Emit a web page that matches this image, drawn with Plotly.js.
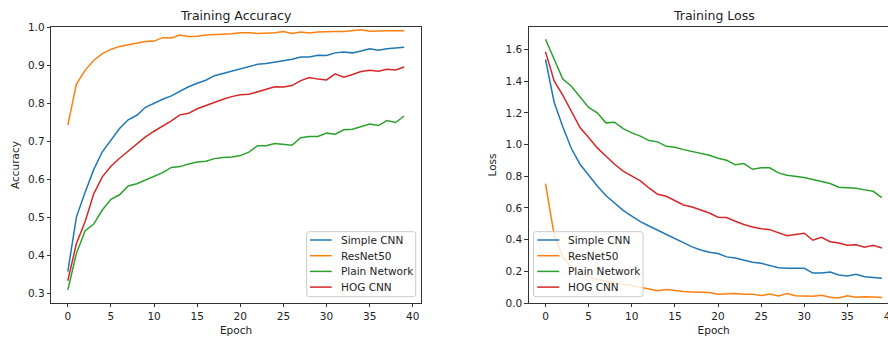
<!DOCTYPE html>
<html>
<head>
<meta charset="utf-8">
<script src="https://cdn.plot.ly/plotly-3.0.1.min.js"></script>
<style>
  html, body { margin: 0; padding: 0; overflow: hidden; background: #fff; width: 888px; height: 337px; }
  #chart { width: 910px; height: 337px; }
</style>
</head>
<body>
<div id="chart"></div>
<script>
// ---- data ----
const epochs = [0,1,2,3,4,5,6,7,8,9,10,11,12,13,14,15,16,17,18,19,20,21,22,23,24,25,26,27,28,29,30,31,32,33,34,35,36,37,38,39];
const seriesNames = ["Simple CNN", "ResNet50", "Plain Network", "HOG CNN"];

const accSimpleCNN = [0.357,0.501,0.565,0.625,0.672,0.703,0.733,0.756,0.768,0.789,0.800,0.810,0.819,0.831,0.843,0.852,0.860,0.872,0.878,0.884,0.889,0.897,0.902,0.904,0.907,0.911,0.915,0.921,0.921,0.926,0.925,0.932,0.934,0.932,0.937,0.943,0.939,0.943,0.945,0.947];
const accResNet50 = [0.742,0.850,0.886,0.912,0.930,0.941,0.949,0.954,0.959,0.962,0.963,0.972,0.971,0.979,0.975,0.976,0.979,0.980,0.980,0.982,0.985,0.985,0.983,0.984,0.985,0.988,0.983,0.987,0.984,0.987,0.988,0.988,0.988,0.990,0.993,0.989,0.990,0.990,0.990,0.990];
const accPlain = [0.309,0.405,0.464,0.482,0.519,0.547,0.559,0.582,0.588,0.598,0.606,0.617,0.631,0.633,0.640,0.645,0.647,0.654,0.657,0.658,0.662,0.671,0.688,0.688,0.694,0.691,0.689,0.709,0.712,0.712,0.721,0.718,0.730,0.731,0.738,0.745,0.741,0.754,0.749,0.766];
const accHOG = [0.333,0.431,0.488,0.561,0.606,0.634,0.655,0.674,0.694,0.711,0.726,0.739,0.753,0.769,0.773,0.785,0.794,0.801,0.810,0.817,0.822,0.823,0.829,0.837,0.843,0.842,0.846,0.859,0.867,0.863,0.861,0.877,0.868,0.875,0.883,0.886,0.884,0.889,0.887,0.895];

const lossSimpleCNN = [1.537,1.267,1.112,0.975,0.876,0.806,0.739,0.678,0.632,0.585,0.549,0.514,0.486,0.459,0.432,0.408,0.381,0.354,0.335,0.320,0.312,0.291,0.284,0.269,0.257,0.251,0.238,0.223,0.219,0.219,0.219,0.189,0.189,0.196,0.177,0.171,0.181,0.166,0.162,0.156];
const lossResNet50 = [0.754,0.430,0.290,0.225,0.190,0.165,0.148,0.136,0.126,0.116,0.110,0.100,0.092,0.078,0.085,0.077,0.073,0.070,0.068,0.066,0.055,0.057,0.060,0.055,0.056,0.047,0.057,0.044,0.060,0.046,0.046,0.043,0.049,0.036,0.032,0.046,0.036,0.040,0.038,0.034];
const lossPlain = [1.665,1.543,1.413,1.368,1.301,1.234,1.200,1.137,1.141,1.101,1.074,1.053,1.025,1.017,0.989,0.983,0.968,0.956,0.947,0.933,0.914,0.901,0.872,0.880,0.844,0.853,0.853,0.821,0.806,0.800,0.792,0.779,0.764,0.754,0.731,0.726,0.724,0.714,0.705,0.665];
const lossHOG = [1.585,1.402,1.312,1.213,1.107,1.044,0.979,0.928,0.876,0.832,0.800,0.771,0.726,0.686,0.674,0.648,0.619,0.606,0.589,0.568,0.541,0.539,0.516,0.495,0.480,0.469,0.463,0.446,0.425,0.432,0.440,0.396,0.415,0.387,0.379,0.364,0.368,0.352,0.364,0.347];

const xTicks = [0,5,10,15,20,25,30,35,40];
const accTicks = [0.3,0.4,0.5,0.6,0.7,0.8,0.9,1.0];
const lossTicks = [0.0,0.2,0.4,0.6,0.8,1.0,1.2,1.4,1.6];

// ---- styles ----
const colors = ["#1f77b4", "#ff7f0e", "#2ca02c", "#d62728"];
const W = 910, H = 337;
const FONT = "DejaVu Sans, Verdana, sans-serif";

const accSeries = [accSimpleCNN, accResNet50, accPlain, accHOG];
const lossSeries = [lossSimpleCNN, lossResNet50, lossPlain, lossHOG];

const traces = [];
accSeries.forEach((ys, i) => traces.push({
  x: epochs, y: ys, type: "scatter", mode: "lines", name: seriesNames[i],
  line: { color: colors[i], width: 1.5 }, xaxis: "x", yaxis: "y", showlegend: false
}));
lossSeries.forEach((ys, i) => traces.push({
  x: epochs, y: ys, type: "scatter", mode: "lines", name: seriesNames[i],
  line: { color: colors[i], width: 1.5 }, xaxis: "x2", yaxis: "y2", showlegend: false
}));

const axisCommon = {
  showgrid: false, zeroline: false, showline: true, mirror: true,
  linecolor: "#000", linewidth: 0.8,
  ticks: "outside", ticklen: 3.5, tickwidth: 0.8, tickcolor: "#000",
  tickfont: { family: FONT, size: 10.5, color: "#222" },
  automargin: false
};

function px(x) { return x / W; }
function py(y) { return (H - y) / H; }

// legend boxes drawn as shapes + real text annotations (matplotlib-style compact legend)
const shapes = [];
const annotations = [
  { text: "Training Accuracy", xref: "paper", yref: "paper", x: px(236), y: py(15.5),
    xanchor: "center", yanchor: "middle", showarrow: false,
    font: { family: FONT, size: 12.5, color: "#222" } },
  { text: "Training Loss", xref: "paper", yref: "paper", x: px(713.7), y: py(15.5),
    xanchor: "center", yanchor: "middle", showarrow: false,
    font: { family: FONT, size: 12.5, color: "#222" } }
];

function roundedRect(x0, y0, x1, y1, r) {
  const P = (x, y) => px(x) + "," + py(y);
  return "M" + P(x0 + r, y0) + " L" + P(x1 - r, y0) +
    " Q" + P(x1, y0) + " " + P(x1, y0 + r) +
    " L" + P(x1, y1 - r) + " Q" + P(x1, y1) + " " + P(x1 - r, y1) +
    " L" + P(x0 + r, y1) + " Q" + P(x0, y1) + " " + P(x0, y1 - r) +
    " L" + P(x0, y0 + r) + " Q" + P(x0, y0) + " " + P(x0 + r, y0) + " Z";
}

function addLegend(boxL, boxR, boxT, boxB, lineL, lineR, textL, rowYs) {
  shapes.push({
    type: "path", xref: "paper", yref: "paper", layer: "above",
    path: roundedRect(boxL, boxT, boxR, boxB, 2.5),
    fillcolor: "rgba(255,255,255,0.8)", line: { color: "#cccccc", width: 1 }
  });
  seriesNames.forEach((name, i) => {
    shapes.push({
      type: "line", xref: "paper", yref: "paper", layer: "above",
      x0: px(lineL), x1: px(lineR), y0: py(rowYs[i]), y1: py(rowYs[i]),
      line: { color: colors[i], width: 1.5 }
    });
    annotations.push({
      text: name, xref: "paper", yref: "paper", x: px(textL), y: py(rowYs[i]),
      xanchor: "left", yanchor: "middle", showarrow: false,
      font: { family: FONT, size: 10.5, color: "#222" }
    });
  });
}
addLegend(306.7, 415.7, 231.7, 296.7, 310, 331.7, 339, [240, 255.7, 271.4, 287.1]);
addLegend(533.5, 643, 231.7, 296.7, 537.3, 559.3, 566, [240, 255.7, 271.4, 287.1]);

const layout = {
  width: W, height: H,
  margin: { l: 0, r: 0, t: 0, b: 0 },
  paper_bgcolor: "#fff", plot_bgcolor: "#fff",
  font: { family: FONT, color: "#222" },
  showlegend: false,
  xaxis: Object.assign({}, axisCommon, {
    domain: [px(51), px(421)], anchor: "y", range: [-1.95, 40.95],
    tickvals: xTicks, ticktext: xTicks.map(String),
    title: { text: "Epoch", font: { family: FONT, size: 10.5, color: "#222" }, standoff: 5 }
  }),
  yaxis: Object.assign({}, axisCommon, {
    domain: [py(303), py(27)], anchor: "x", range: [0.2745, 1.0],
    tickvals: accTicks, ticktext: accTicks.map(v => v.toFixed(1)),
    title: { text: "Accuracy", font: { family: FONT, size: 10.5, color: "#222" }, standoff: 6 }
  }),
  xaxis2: Object.assign({}, axisCommon, {
    domain: [px(528.7), px(898.7)], anchor: "y2", range: [-1.95, 40.95],
    tickvals: xTicks, ticktext: xTicks.map(String),
    title: { text: "Epoch", font: { family: FONT, size: 10.5, color: "#222" }, standoff: 5 }
  }),
  yaxis2: Object.assign({}, axisCommon, {
    domain: [py(303), py(27)], anchor: "x2", range: [0, 1.742],
    tickvals: lossTicks, ticktext: lossTicks.map(v => v.toFixed(1)),
    title: { text: "Loss", font: { family: FONT, size: 10.5, color: "#222" }, standoff: 6 }
  }),
  shapes: shapes,
  annotations: annotations
};

Plotly.newPlot("chart", traces, layout, { displayModeBar: false, staticPlot: true });
</script>
</body>
</html>
